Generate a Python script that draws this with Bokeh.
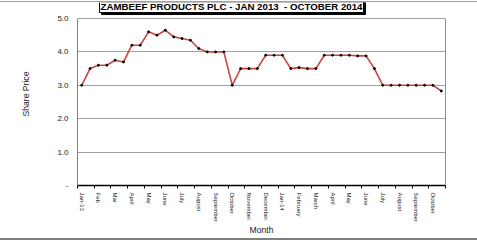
from bokeh.plotting import figure
from bokeh.models import (ColumnDataSource, FixedTicker, Label, Range1d, LinearAxis,
                          CustomLabelingPolicy)
from bokeh.embed import file_html
from bokeh.resources import INLINE

# ---- data (semi-monthly share prices, Jan 2013 - Oct 2014) ----
prices = [3.0, 3.5, 3.6, 3.6, 3.75, 3.7, 4.2, 4.2, 4.6, 4.5, 4.65, 4.45,
          4.4, 4.35, 4.1, 4.0, 4.0, 4.0, 3.0, 3.5, 3.5, 3.5, 3.9, 3.9,
          3.9, 3.5, 3.53, 3.5, 3.5, 3.9, 3.9, 3.9, 3.9, 3.88, 3.88, 3.5,
          3.0, 3.0, 3.0, 3.0, 3.0, 3.0, 3.0, 2.83]
month_labels = ["Jan-13", "Feb", "Mar", "April", "May", "June", "July", "August",
                "September", "October", "November", "December", "Jan-14",
                "February", "March", "April", "May", "June", "July", "August",
                "September", "October"]
y_ticks = [0, 1, 2, 3, 4, 5]
y_tick_labels = ["-", "1.0", "2.0", "3.0", "4.0", "5.0"]
title_text = "ZAMBEEF PRODUCTS PLC - JAN 2013\u00a0 - OCTOBER 2014"
x_title = "Month"
y_title = "Share Price"

# ---- layout (page pixels) ----
W = 477
TOP = 2            # content top on page (below the 1px border line at y=1)
BOT = 241          # content bottom on page (2px border line below)
FL, FR = 77, 445   # plot area left/right
PT, PB = 18, 185   # plot area top (value 5) / bottom (value 0)
FONT = "Liberation Sans"
Y_MAX = y_ticks[-1]
y_end = Y_MAX * (PB - TOP) / (PB - PT)   # frame extends up to canvas top

p = figure(width=W, height=BOT - TOP, output_backend="svg", toolbar_location=None,
           title=None, x_range=Range1d(-0.5, len(prices) - 0.5),
           y_range=Range1d(0, y_end), min_border_left=FL, min_border_right=W - FR,
           min_border_top=0, min_border_bottom=BOT - PB, margin=(TOP - 1, 0, 0, 0))
p.styles = {"border-top": "1px solid #a0a0a0", "border-bottom": "2px solid #808080"}
p.background_fill_color = "white"
p.border_fill_color = "white"
p.outline_line_color = None

no_labels = CustomLabelingPolicy(code="for (const i of indices) indices.unset(i); return indices")

# grid (top grid line at 5.0 is the plot's top border)
p.xgrid.visible = False
p.ygrid.ticker = FixedTicker(ticks=y_ticks)
p.ygrid.grid_line_color = "#a0a0a0"
p.ygrid.grid_line_width = 1

# y axis
p.yaxis.ticker = FixedTicker(ticks=y_ticks)
p.yaxis.bounds = (0, Y_MAX)
p.yaxis.major_label_overrides = {t: l for t, l in zip(y_ticks, y_tick_labels)}
p.yaxis.major_tick_out = 0
p.yaxis.major_tick_in = 0
p.yaxis.minor_tick_out = 0
p.yaxis.minor_tick_in = 0
p.yaxis.axis_line_color = "#808080"
p.yaxis.major_label_standoff = 9
p.yaxis.major_label_text_font = FONT
p.yaxis.major_label_text_font_size = "8px"
p.yaxis.major_label_text_color = "#222222"
p.yaxis.axis_label = y_title
p.yaxis.axis_label_text_font = FONT
p.yaxis.axis_label_text_font_size = "8.6px"
p.yaxis.axis_label_text_font_style = "normal"
p.yaxis.axis_label_text_color = "#222222"
p.yaxis.axis_label_standoff = 23

# right border as a bare axis
ra = LinearAxis(bounds=(0, Y_MAX), ticker=FixedTicker(ticks=[]),
                major_tick_out=0, major_tick_in=0, minor_tick_out=0, minor_tick_in=0,
                major_label_policy=no_labels, major_label_text_font_size="1px",
                major_label_standoff=0, axis_line_color="#909090")
p.add_layout(ra, "right")

# x axis 1: tick marks at month boundaries (every 2 points), no labels
ax = p.xaxis[0]
ax.ticker = FixedTicker(ticks=[-0.5 + 2 * k for k in range(len(month_labels) + 1)])
ax.major_label_policy = no_labels
ax.major_label_text_font_size = "1px"
ax.major_label_standoff = 0
ax.major_tick_out = 3
ax.major_tick_in = 0
ax.minor_tick_out = 0
ax.minor_tick_in = 0
ax.axis_line_color = "black"
ax.axis_line_width = 1.5
ax.major_tick_line_color = "black"

# x axis 2: month labels at the first point of each month
lab_ticks = [2 * i for i in range(len(month_labels))]
ax2 = LinearAxis(ticker=FixedTicker(ticks=lab_ticks),
                 major_label_overrides={t: l for t, l in zip(lab_ticks, month_labels)},
                 major_label_orientation="vertical", major_label_standoff=0,
                 major_label_text_font=FONT, major_label_text_font_size="6px",
                 major_label_text_color="#222222",
                 major_tick_out=0, major_tick_in=0, minor_tick_out=0, minor_tick_in=0,
                 axis_line_color=None,
                 axis_label=x_title, axis_label_text_font=FONT,
                 axis_label_text_font_size="8.6px", axis_label_text_font_style="normal",
                 axis_label_text_color="#222222", axis_label_standoff=0)
p.add_layout(ax2, "below")

# series
idx = list(range(len(prices)))
src = ColumnDataSource(dict(x=idx, y=prices))
p.line("x", "y", source=src, line_color="#cc4440", line_width=1.6)
p.scatter("x", "y", source=src, size=2, color="black")

# title box with shadow (screen units relative to the frame: x from left, y up from bottom)
def sx(X):
    return X - FL

def sy(Y):
    return PB - Y

TFS = "9.7px"
PAD = 1
TX, TY = 99, -1
p.add_layout(Label(x=sx(TX), y=sy(TY), x_units="screen", y_units="screen",
                   text=title_text, text_align="left", text_baseline="top",
                   x_offset=2, y_offset=-2,
                   text_font=FONT, text_font_size=TFS, text_font_style="bold",
                   text_color="black", background_fill_color="black",
                   border_line_color="black", padding=PAD))
p.add_layout(Label(x=sx(TX), y=sy(TY), x_units="screen", y_units="screen",
                   text=title_text, text_align="left", text_baseline="top",
                   text_font=FONT, text_font_size=TFS, text_font_style="bold",
                   text_color="black", background_fill_color="white",
                   border_line_color="black", border_line_width=1, padding=PAD))

open("out.html", "w").write(file_html(p, INLINE))
